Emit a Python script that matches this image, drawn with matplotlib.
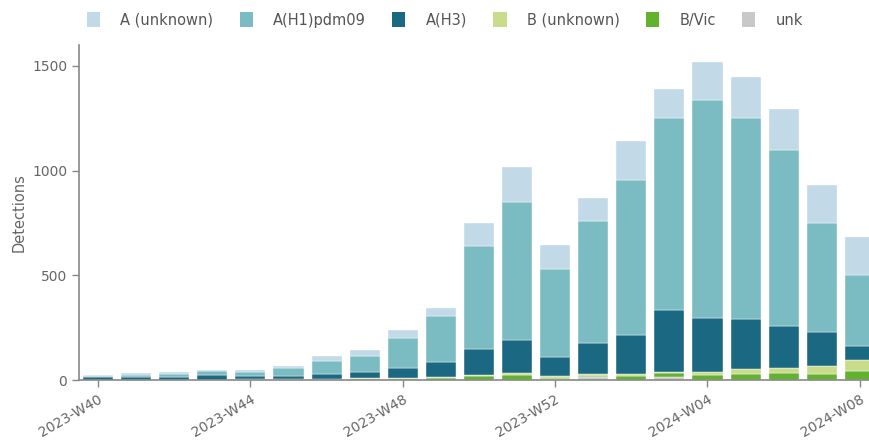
import numpy as np
import matplotlib.pyplot as plt
from matplotlib.patches import Patch

weeks = ["2023-W40", "2023-W41", "2023-W42", "2023-W43", "2023-W44", "2023-W45",
         "2023-W46", "2023-W47", "2023-W48", "2023-W49", "2023-W50", "2023-W51",
         "2023-W52", "2024-W01", "2024-W02", "2024-W03", "2024-W04", "2024-W05",
         "2024-W06", "2024-W07", "2024-W08"]

# stacked from bottom to top
b_vic = [0, 0, 0, 0, 3, 3, 5, 6, 6, 11, 19, 22, 8, 8, 20, 20, 24, 29, 35, 29, 44]
b_unknown = [0, 0, 0, 0, 2, 3, 2, 2, 3, 3, 6, 10, 8, 9, 9, 8, 16, 22, 24, 37, 53]
unk = [0, 0, 0, 0, 0, 0, 0, 0, 0, 0, 0, 0, 3, 12, 0, 12, 0, 0, 0, 0, 0]
a_h3 = [16, 12, 16, 22, 13, 15, 22, 28, 48, 70, 124, 159, 89, 146, 184, 296, 256, 239, 201, 165, 66]
a_h1 = [5, 13, 14, 19, 22, 37, 62, 80, 145, 220, 492, 658, 423, 586, 741, 913, 1040, 963, 839, 521, 339]
a_unknown = [3, 8, 6, 8, 8, 10, 24, 27, 35, 41, 111, 170, 115, 110, 186, 140, 185, 193, 196, 178, 180]

colors = {
    "A (unknown)": "#c2d9e7",
    "A(H1)pdm09": "#7bbcc2",
    "A(H3)": "#1b6882",
    "B (unknown)": "#c9dc8c",
    "B/Vic": "#63b22f",
    "unk": "#c8c8c8",
}

stack = [
    ("unk", unk),
    ("B/Vic", b_vic),
    ("B (unknown)", b_unknown),
    ("A(H3)", a_h3),
    ("A(H1)pdm09", a_h1),
    ("A (unknown)", a_unknown),
]

fig = plt.figure(figsize=(8.69, 4.4), dpi=100)
ax = fig.add_axes([79 / 869, 60 / 440, 1 - 79 / 869, 335 / 440])

x = np.arange(len(weeks))
bottom = np.zeros(len(weeks))
for name, vals in stack:
    ax.bar(x, vals, width=0.79, bottom=bottom, color=colors[name],
           edgecolor="white", linewidth=0.3)
    bottom += np.array(vals)

ax.set_xlim(-0.5, 20.24)
ax.set_ylim(0, 1600)
ax.set_yticks([0, 500, 1000, 1500])
ax.set_xticks(x[::4])
ax.set_xticklabels(weeks[::4], rotation=30, ha="right", rotation_mode="anchor")

for s in ["top", "right"]:
    ax.spines[s].set_visible(False)
for s in ["left", "bottom"]:
    ax.spines[s].set_color("#888888")
    ax.spines[s].set_linewidth(1.2)
ax.tick_params(axis="both", colors="#888888", length=5, width=1)
ax.tick_params(axis="both", labelcolor="#666666", labelsize=10)
ax.set_ylabel("Detections", color="#666666", fontsize=10.5, labelpad=4)

legend_order = ["A (unknown)", "A(H1)pdm09", "A(H3)", "B (unknown)", "B/Vic", "unk"]
handles = [Patch(facecolor=colors[n], edgecolor="none") for n in legend_order]
fig.legend(handles, legend_order, loc="center", bbox_to_anchor=(445 / 869, 1 - 20 / 440),
           ncol=6, frameon=False, fontsize=10.5, handlelength=0.9, handleheight=1.2,
           handletextpad=1.4, columnspacing=1.8, labelcolor="#555555")

plt.savefig("out.png", dpi=100)
